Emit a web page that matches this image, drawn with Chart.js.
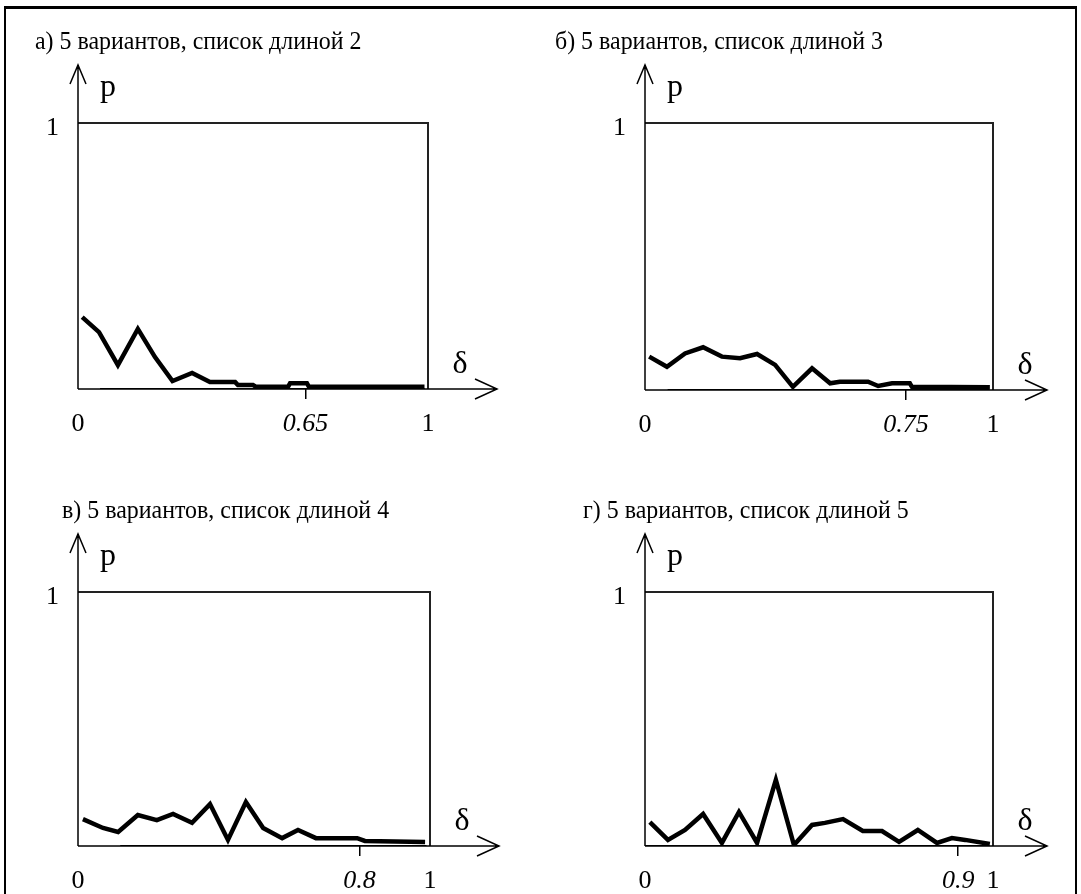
<!DOCTYPE html>
<html>
<head>
<meta charset="utf-8">
<script src="https://cdn.jsdelivr.net/npm/chart.js@4/dist/chart.umd.min.js"></script>
<style>
  body { margin: 0; background: #fff; }
  #wrap { position: relative; width: 1081px; height: 894px; overflow: hidden; background: #fff; }
  #frame { position: absolute; left: 4px; top: 6px; width: 1069px; height: 920px; border: 2px solid #000; border-top-width: 3px; }
  canvas { position: absolute; }
</style>
</head>
<body>
<div id="wrap">
  <div id="frame"></div>
  <canvas id="chartA" width="540" height="447" style="left:0;top:0"></canvas>
  <canvas id="chartB" width="540" height="447" style="left:540px;top:0"></canvas>
  <canvas id="chartC" width="540" height="447" style="left:0;top:447px"></canvas>
  <canvas id="chartD" width="540" height="447" style="left:540px;top:447px"></canvas>
</div>
<script>
// подписи панелей
const titles = [
  "а) 5 вариантов, список длиной 2",
  "б) 5 вариантов, список длиной 3",
  "в) 5 вариантов, список длиной 4",
  "г) 5 вариантов, список длиной 5"
];
// отмеченное значение на оси δ
const markTicks = [0.65, 0.75, 0.8, 0.9];

// кривые p(δ)
const deltaA = [0.012, 0.06, 0.114, 0.171, 0.22, 0.27, 0.326, 0.377, 0.449, 0.457, 0.5, 0.509, 0.6, 0.606, 0.654, 0.66, 0.99];
const pA     = [0.27, 0.214, 0.09, 0.226, 0.12, 0.03, 0.06, 0.026, 0.026, 0.015, 0.015, 0.008, 0.008, 0.022, 0.022, 0.008, 0.008];

const deltaB = [0.012, 0.063, 0.115, 0.167, 0.221, 0.273, 0.322, 0.374, 0.425, 0.48, 0.532, 0.56, 0.641, 0.67, 0.71, 0.761, 0.767, 0.991];
const pB     = [0.125, 0.087, 0.137, 0.16, 0.125, 0.119, 0.135, 0.094, 0.012, 0.081, 0.025, 0.031, 0.031, 0.015, 0.025, 0.025, 0.012, 0.01];

const deltaC = [0.014, 0.071, 0.114, 0.17, 0.224, 0.27, 0.324, 0.375, 0.426, 0.477, 0.526, 0.58, 0.625, 0.676, 0.793, 0.815, 0.986];
const pC     = [0.106, 0.071, 0.055, 0.122, 0.102, 0.126, 0.091, 0.165, 0.024, 0.173, 0.071, 0.031, 0.063, 0.031, 0.031, 0.02, 0.016];

const deltaD = [0.014, 0.066, 0.115, 0.167, 0.221, 0.27, 0.322, 0.376, 0.428, 0.48, 0.517, 0.569, 0.626, 0.681, 0.73, 0.784, 0.839, 0.882, 0.92, 0.991];
const pD     = [0.094, 0.024, 0.063, 0.126, 0.012, 0.134, 0.012, 0.26, 0.004, 0.083, 0.091, 0.106, 0.059, 0.059, 0.016, 0.063, 0.012, 0.031, 0.024, 0.008];

// тонкая линия у самой оси
const baseDelta = [[0.063, 0.99], [0.065, 0.99], [0.12, 0.99], [0.0, 0.99]];
const baseP     = [[0, 0], [0, 0], [0, 0], [0, 0]];

const FONT = '"Liberation Serif", "Times New Roman", serif';

// оси со стрелками, рамка, подписи p, δ и заголовок
const decor = {
  id: "decor",
  afterDraw(chart, args, o) {
    const { ctx, scales: { x, y } } = chart;
    const x0 = x.getPixelForValue(0), x1 = x.getPixelForValue(1);
    const y0 = y.getPixelForValue(0), y1 = y.getPixelForValue(1);
    ctx.save();
    ctx.lineCap = "butt";
    // рамка сверху и справа
    ctx.strokeStyle = "#222";
    ctx.lineWidth = 2;
    ctx.beginPath();
    ctx.moveTo(x0, y1); ctx.lineTo(x1, y1); ctx.lineTo(x1, y0);
    ctx.stroke();
    // ось p
    ctx.strokeStyle = "#000";
    ctx.lineWidth = 1.5;
    const yTop = y1 - 58;
    ctx.beginPath();
    ctx.moveTo(x0, y0); ctx.lineTo(x0, yTop);
    ctx.moveTo(x0 - 8, yTop + 19); ctx.lineTo(x0, yTop); ctx.lineTo(x0 + 8, yTop + 19);
    // ось δ
    const xTip = x1 + o.arrow;
    ctx.moveTo(x0, y0); ctx.lineTo(xTip, y0);
    ctx.moveTo(xTip - 22, y0 - 10); ctx.lineTo(xTip, y0); ctx.lineTo(xTip - 22, y0 + 10);
    ctx.stroke();
    // подписи
    ctx.fillStyle = "#000";
    ctx.textBaseline = "middle";
    ctx.textAlign = "center";
    ctx.font = "32px " + FONT;
    ctx.fillText("p", x0 + 30, y1 - 35);
    ctx.fillText("δ", x1 + 32, y0 - 24);
    // заголовок, чуть сжатый по ширине
    ctx.textAlign = "left";
    ctx.font = "26px " + FONT;
    ctx.translate(x0 + o.titleDx, y1 - 81);
    ctx.scale(0.92, 1);
    ctx.fillText(o.title, 0, 0);
    ctx.restore();
  }
};

function makePanel(id, idx, deltas, ps, area, arrow, titleDx) {
  const mark = markTicks[idx];
  const W = 540, H = 447;
  new Chart(document.getElementById(id), {
    type: "line",
    data: {
      datasets: [
        {
          data: deltas.map((d, i) => ({ x: d, y: ps[i] })),
          borderColor: "#000",
          borderWidth: 4.5,
          pointRadius: 0,
          tension: 0
        },
        {
          data: baseDelta[idx].map((d, i) => ({ x: d, y: baseP[idx][i] })),
          borderColor: "#000",
          borderWidth: 2,
          pointRadius: 0,
          tension: 0
        }
      ]
    },
    options: {
      responsive: false,
      animation: false,
      events: [],
      layout: { padding: { left: area.l - 40, right: W - area.r, top: area.t, bottom: 0 } },
      plugins: {
        legend: { display: false },
        tooltip: { enabled: false },
        decor: { title: titles[idx], arrow: arrow, titleDx: titleDx }
      },
      scales: {
        x: {
          type: "linear",
          min: 0, max: 1,
          afterFit: s => { s.height = H - area.b; },
          afterBuildTicks: s => { s.ticks = [{ value: 0 }, { value: mark }, { value: 1 }]; },
          border: { display: false },
          grid: {
            drawOnChartArea: false,
            drawTicks: true,
            tickLength: 10,
            lineWidth: 1.5,
            color: c => (c.tick && c.tick.value === mark ? "#000" : "rgba(0,0,0,0)")
          },
          ticks: {
            autoSkip: false,
            maxRotation: 0,
            padding: 10,
            color: "#000",
            font: c => ({ family: FONT, size: 26, style: c.tick && c.tick.value === mark ? "italic" : "normal" }),
            callback: v => String(v)
          }
        },
        y: {
          type: "linear",
          min: 0, max: 1,
          afterFit: s => { s.width = 40; },
          afterBuildTicks: s => { s.ticks = [{ value: 1 }]; },
          border: { display: false },
          grid: { display: false },
          ticks: {
            padding: 11,
            labelOffset: 5,
            color: "#000",
            font: { family: FONT, size: 26 },
            callback: v => String(v)
          }
        }
      }
    },
    plugins: [decor]
  });
}

makePanel("chartA", 0, deltaA, pA, { l: 78, r: 428, t: 123, b: 389 }, 69, -43);
makePanel("chartB", 1, deltaB, pB, { l: 105, r: 453, t: 123, b: 390 }, 54, -90);
makePanel("chartC", 2, deltaC, pC, { l: 78, r: 430, t: 145, b: 399 }, 69, -16);
makePanel("chartD", 3, deltaD, pD, { l: 105, r: 453, t: 145, b: 399 }, 54, -62);
</script>
</body>
</html>
